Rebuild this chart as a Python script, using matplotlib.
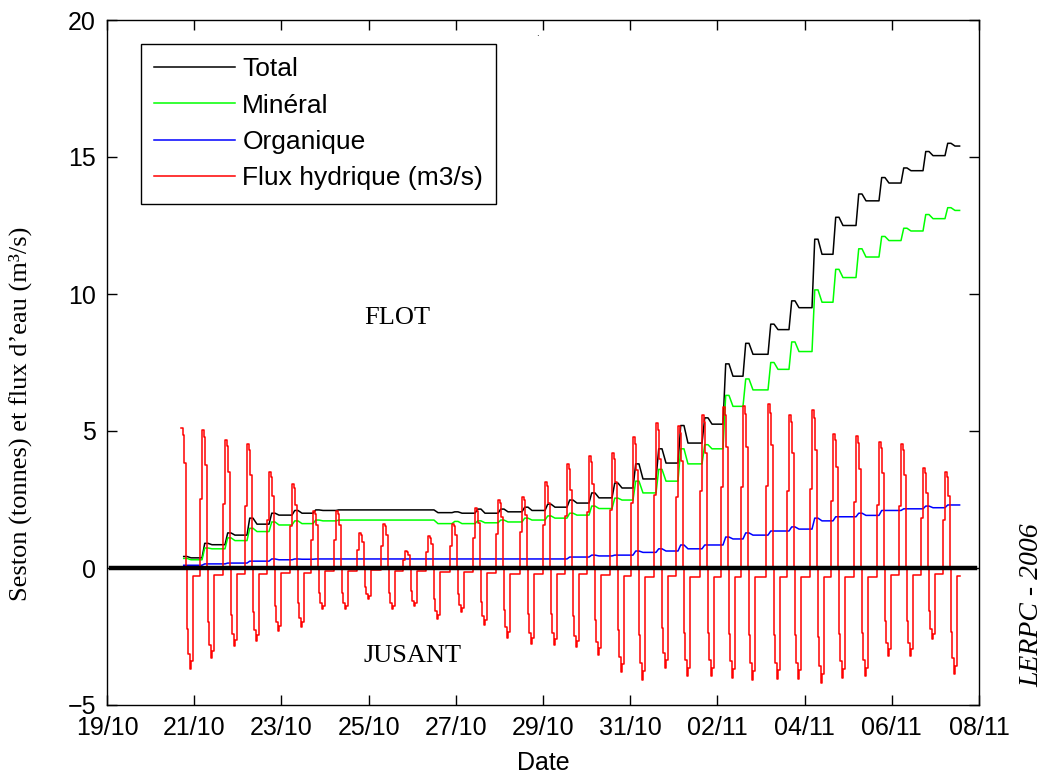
import numpy as np
import pandas as pd
import matplotlib
matplotlib.use("Agg")
import matplotlib.pyplot as plt
import matplotlib.dates as mdates

#### data ####
start = pd.Timestamp("2005-10-19")
end_day = 19.555

# flood start of each tidal cycle (days after 19/10 00:00)
cycle_day = [1.697, 2.179, 2.706, 3.211, 3.716, 4.243, 4.725, 5.252, 5.780, 6.330,
             6.835, 7.362, 7.913, 8.440, 8.968, 9.518, 10.046, 10.550, 11.055, 11.583,
             12.064, 12.592, 13.096, 13.647, 14.128, 14.587, 15.161, 15.642, 16.170, 16.651,
             17.179, 17.706, 18.211, 18.716, 19.220]

# flux hydrique: flood peak / ebb trough of each cycle
flux_peak = [5.1, 5.03, 4.67, 4.53, 3.5, 3.06, 2.08, 2.08, 1.28, 1.6,
             0.62, 1.17, 1.6, 2.2, 2.48, 2.6, 3.14, 3.8, 4.08, 4.2,
             4.78, 5.3, 5.2, 5.6, 5.88, 5.9, 5.97, 5.6, 5.76, 4.9,
             4.8, 4.6, 4.53, 3.65, 3.5]
flux_trough = [-3.7, -3.3, -2.85, -2.66, -2.3, -2.15, -1.5, -1.5, -1.13, -1.5,
               -1.4, -1.86, -1.6, -2.08, -2.55, -2.77, -2.8, -2.9, -3.18, -3.8,
               -4.1, -3.65, -3.95, -3.95, -4.0, -4.1, -4.06, -4.06, -4.2, -4.0,
               -3.95, -3.2, -3.2, -2.6, -3.87]

# shape of one tide, hourly-like steps (hours after flood start, fraction of peak / trough)
flood_h = [-1.1, 0.0, 0.9, 1.9, 2.5, 3.0]
flood_f = [0.5, 1.0, 0.95, 0.75, 0.35, 0.0]
ebb_h = [3.4, 4.1, 4.8, 5.5, 6.4]
ebb_f = [0.6, 0.85, 1.0, 0.92, 0.08]

# seston (tonnes) after each flood: high point, then settled level
total_high = [0.42, 0.9, 1.28, 1.82, 2.0, 2.1, 2.12, 2.12, 2.12, 2.12,
              2.12, 2.12, 2.05, 2.15, 2.15, 2.22, 2.33, 2.48, 2.74, 3.1,
              3.8, 4.35, 5.2, 5.48, 7.45, 8.2, 8.9, 9.75, 12.0, 12.8,
              13.65, 14.25, 14.6, 15.2, 15.5]
total_low = [0.37, 0.85, 1.2, 1.6, 1.93, 2.0, 2.1, 2.12, 2.12, 2.12,
             2.12, 2.02, 2.0, 2.0, 2.05, 2.1, 2.22, 2.37, 2.56, 2.92,
             3.25, 3.83, 4.56, 5.25, 7.0, 7.8, 8.7, 9.5, 11.45, 12.5,
             13.4, 14.05, 14.5, 15.05, 15.4]
mineral_high = [0.35, 0.73, 1.1, 1.45, 1.68, 1.72, 1.75, 1.75, 1.75, 1.75,
                1.75, 1.75, 1.7, 1.72, 1.75, 1.82, 1.9, 2.0, 2.26, 2.55,
                3.17, 3.6, 4.35, 4.5, 6.3, 6.9, 7.5, 8.25, 10.15, 10.9,
                11.65, 12.1, 12.4, 12.9, 13.15]
mineral_low = [0.3, 0.7, 1.0, 1.33, 1.57, 1.62, 1.72, 1.75, 1.75, 1.75,
               1.75, 1.62, 1.62, 1.65, 1.68, 1.75, 1.82, 1.93, 2.17, 2.48,
               2.74, 3.17, 3.8, 4.35, 5.9, 6.5, 7.25, 7.9, 9.7, 10.6,
               11.35, 11.95, 12.3, 12.75, 13.05]
organic_high = [0.1, 0.15, 0.18, 0.25, 0.33, 0.33, 0.33, 0.33, 0.33, 0.33,
                0.33, 0.33, 0.33, 0.33, 0.33, 0.33, 0.33, 0.4, 0.47, 0.47,
                0.62, 0.7, 0.84, 0.84, 1.13, 1.28, 1.35, 1.5, 1.82, 1.87,
                2.0, 2.1, 2.16, 2.26, 2.3]
organic_low = [0.1, 0.15, 0.18, 0.25, 0.3, 0.32, 0.33, 0.33, 0.33, 0.33,
               0.33, 0.33, 0.33, 0.33, 0.33, 0.33, 0.33, 0.4, 0.44, 0.47,
               0.57, 0.62, 0.7, 0.84, 1.06, 1.2, 1.35, 1.42, 1.72, 1.87,
               1.92, 2.1, 2.16, 2.2, 2.3]

# hours of the seston step after each flood start
step_h = [0.0, 1.5, 3.3, 5.5]

xticks = pd.date_range("2005-10-19", "2005-11-08", freq="2D")
yticks = [-5, 0, 5, 10, 15, 20]


def tide_series():
    t = []
    v = []
    for i, (d, p, q) in enumerate(zip(cycle_day, flux_peak, flux_trough)):
        hs = flood_h if i > 0 else flood_h[1:]
        fs = flood_f if i > 0 else flood_f[1:]
        for h, f in zip(hs, fs):
            t.append(d + h / 24.0)
            v.append(p * f)
        for h, f in zip(ebb_h, ebb_f):
            t.append(d + h / 24.0)
            v.append(q * f)
    t.append(end_day)
    v.append(v[-1])
    return t, v


def seston_series(high, low):
    t = []
    v = []
    prev = high[0]
    for d, hi, lo in zip(cycle_day, high, low):
        for h, val in zip(step_h, [prev, hi, hi, lo]):
            t.append(d + h / 24.0)
            v.append(val)
        prev = lo
    t.append(end_day)
    v.append(prev)
    return t[1:], v[1:]


def to_dates(days):
    return start + pd.to_timedelta(np.array(days), unit="D")


#### plot ####
plt.rcParams["font.family"] = ["Liberation Sans", "DejaVu Sans"]
fig = plt.figure(figsize=(10.48, 7.78), dpi=100)
ax = fig.add_axes([107 / 1048, 1 - 705 / 778, 872 / 1048, 685 / 778])

t, v = seston_series(total_high, total_low)
ax.plot(to_dates(t), v, color="black", lw=1.1, label="Total")
t, v = seston_series(mineral_high, mineral_low)
ax.plot(to_dates(t), v, color=(0, 1, 0), lw=1.1, label="Minéral")
t, v = seston_series(organic_high, organic_low)
ax.plot(to_dates(t), v, color=(0, 0, 1), lw=1.1, label="Organique")
t, v = tide_series()
ax.plot(to_dates(t), v, color=(1, 0, 0), lw=1.1, drawstyle="steps-post",
        label="Flux hydrique (m3/s)")

ax.axhline(0, xmin=0.005, xmax=0.995, color="black", lw=3.2, zorder=5)

ax.set_xlim(xticks[0], xticks[-1])
ax.set_ylim(-5, 20)
ax.set_xticks(xticks)
ax.xaxis.set_major_formatter(mdates.DateFormatter("%d/%m"))
ax.set_yticks(yticks)
ax.tick_params(direction="in", length=7, width=1, top=True, right=True,
               labelsize=18, pad=8)
for s in ax.spines.values():
    s.set_linewidth(1.0)

leg = ax.legend(loc="upper left", bbox_to_anchor=(0.039, 0.965), borderaxespad=0,
                fontsize=19, handlelength=3.07, handletextpad=0.27,
                labelspacing=0.47, borderpad=0.5, fancybox=False,
                edgecolor="black", framealpha=1)
leg.get_frame().set_linewidth(1.0)

ax.text(start + pd.Timedelta(days=6.65), 9.12, "FLOT", family="Liberation Serif",
        fontsize=19, ha="center", va="center")
ax.text(start + pd.Timedelta(days=7.0), -3.21, "JUSANT", family="Liberation Serif",
        fontsize=19, ha="center", va="center")

fig.text(20 / 1048, 1 - 414 / 778, "Seston (tonnes) et flux d\u2019eau (m\u00b3/s)",
         family="Liberation Serif", fontsize=19, rotation=90, ha="center", va="center")
fig.text(543 / 1048, 1 - 763 / 778, "Date", fontsize=18, ha="center", va="center")
fig.text(1032 / 1048, 1 - 605 / 778, "LERPC - 2006", family="Liberation Serif",
         style="italic", fontsize=20, rotation=90, ha="center", va="center")
fig.text(537 / 1048, 1 - 33 / 778, ".", fontsize=7, ha="center", va="center")

fig.savefig("out.png", dpi=100)
